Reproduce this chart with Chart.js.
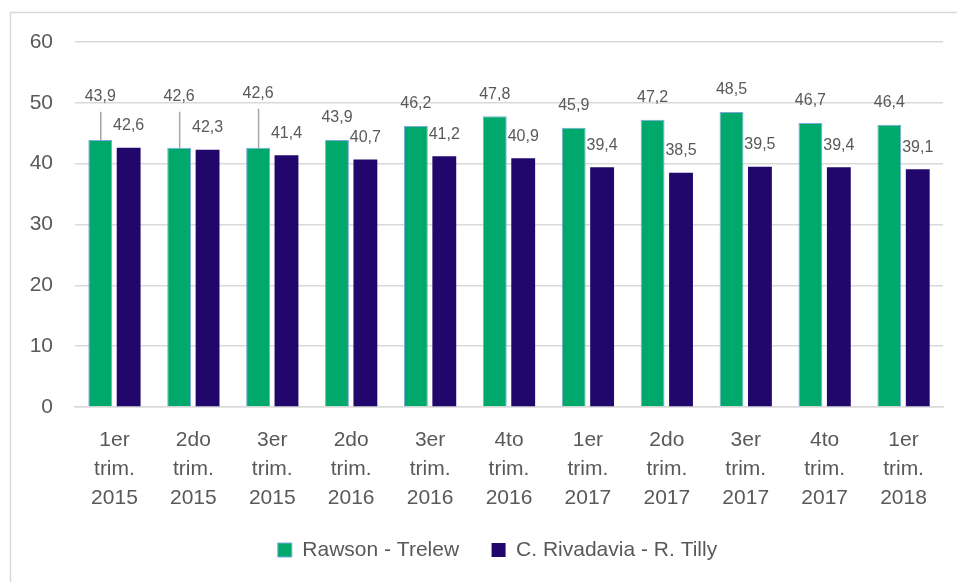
<!DOCTYPE html>
<html><head><meta charset="utf-8">
<script src="https://cdn.jsdelivr.net/npm/chart.js@4.4.0/dist/chart.umd.min.js"></script>
<style>html,body{margin:0;padding:0;background:#fff;}#wrap{width:957px;height:582px;position:relative;}</style>
</head><body><div id="wrap"><canvas id="c" width="957" height="582"></canvas></div>
<script>
// ---- data ----
const categories = [
  ['1er','trim.','2015'], ['2do','trim.','2015'], ['3er','trim.','2015'],
  ['2do','trim.','2016'], ['3er','trim.','2016'], ['4to','trim.','2016'],
  ['1er','trim.','2017'], ['2do','trim.','2017'], ['3er','trim.','2017'],
  ['4to','trim.','2017'], ['1er','trim.','2018']
];
const seriesNames = ['Rawson - Trelew', 'C. Rivadavia - R. Tilly'];
const rawsonTrelew = [43.9, 42.6, 42.6, 43.9, 46.2, 47.8, 45.9, 47.2, 48.5, 46.7, 46.4];
const rivadaviaTilly = [42.6, 42.3, 41.4, 40.7, 41.2, 40.9, 39.4, 38.5, 39.5, 39.4, 39.1];
const yTicks = [0, 10, 20, 30, 40, 50, 60];

// label placement for the labels moved up with a leader line (value-axis units)
const leaderLabelAt = {0: 51.0, 1: 51.0, 2: 51.5};

const FONT = "'Liberation Sans', Arial, sans-serif";
const GRAY = '#595959';

const framePlugin = {
  id: 'frame',
  beforeDraw(chart) {
    const ctx = chart.ctx;
    ctx.save();
    ctx.fillStyle = '#fff';
    ctx.fillRect(0, 0, chart.width, chart.height);
    ctx.strokeStyle = '#d9d9d9';
    ctx.lineWidth = 1.5;
    ctx.strokeRect(10.5, 12.5, 2000, 2000);
    ctx.restore();
  }
};

// shift the legend so it is centred like the original (which centres on a wider frame)
const legendShift = {
  id: 'legendShift',
  afterLayout(chart) {
    if (chart.legend) { chart.legend.left += 26; chart.legend.right += 26; }
  }
};

const fmt = v => v.toFixed(1).replace('.', ',');

const labelPlugin = {
  id: 'valueLabels',
  afterDatasetsDraw(chart) {
    const ctx = chart.ctx;
    const yScale = chart.scales.y;
    ctx.save();
    ctx.font = '16px ' + FONT;
    ctx.fillStyle = GRAY;
    ctx.textAlign = 'center';
    ctx.textBaseline = 'middle';
    chart.data.datasets.forEach((ds, di) => {
      const meta = chart.getDatasetMeta(di);
      meta.data.forEach((bar, i) => {
        const v = ds.data[i];
        let ly = bar.y - 22;
        if (di === 0 && leaderLabelAt[i] !== undefined) {
          ly = yScale.getPixelForValue(leaderLabelAt[i]);
          ctx.save();
          ctx.strokeStyle = '#a6a6a6';
          ctx.lineWidth = 1.5;
          ctx.beginPath();
          ctx.moveTo(bar.x + 0.5, ly + 15);
          ctx.lineTo(bar.x + 0.5, bar.y);
          ctx.stroke();
          ctx.restore();
        }
        ctx.fillText(fmt(v), bar.x, ly);
      });
    });
    ctx.restore();
  }
};

new Chart(document.getElementById('c'), {
  type: 'bar',
  data: {
    labels: categories,
    datasets: [
      {
        label: seriesNames[0], data: rawsonTrelew,
        backgroundColor: '#00a96b', borderColor: '#7aa9dc', borderWidth: 1,
        categoryPercentage: 0.72, barPercentage: 0.84
      },
      {
        label: seriesNames[1], data: rivadaviaTilly,
        backgroundColor: '#21066b', borderColor: '#21066b', borderWidth: 0,
        categoryPercentage: 0.72, barPercentage: 0.84
      }
    ]
  },
  options: {
    responsive: false,
    animation: false,
    layout: { padding: { left: 0, right: 14, top: 42, bottom: 11.5 } },
    scales: {
      x: {
        grid: { display: false },
        border: { display: true, color: '#d9d9d9', width: 1.5 },
        ticks: {
          color: GRAY, padding: 11, maxRotation: 0, autoSkip: false,
          font: { family: FONT, size: 21, lineHeight: 1.38 }
        },
        afterFit(scale) { scale.height = 100; }
      },
      y: {
        min: 0, max: 60,
        afterBuildTicks(scale) { scale.ticks = yTicks.map(v => ({ value: v })); },
        grid: { color: '#d9d9d9', lineWidth: 1.5, drawTicks: false },
        border: { display: false },
        ticks: {
          color: GRAY, padding: 22,
          font: { family: FONT, size: 21 }
        },
        afterFit(scale) { scale.width = 75; }
      }
    },
    plugins: {
      legend: {
        position: 'bottom',
        labels: {
          color: GRAY, boxWidth: 14, boxHeight: 14, padding: 32.5,
          font: { family: FONT, size: 21 }
        }
      },
      tooltip: { enabled: false }
    }
  },
  plugins: [framePlugin, legendShift, labelPlugin]
});
</script>
</body></html>
